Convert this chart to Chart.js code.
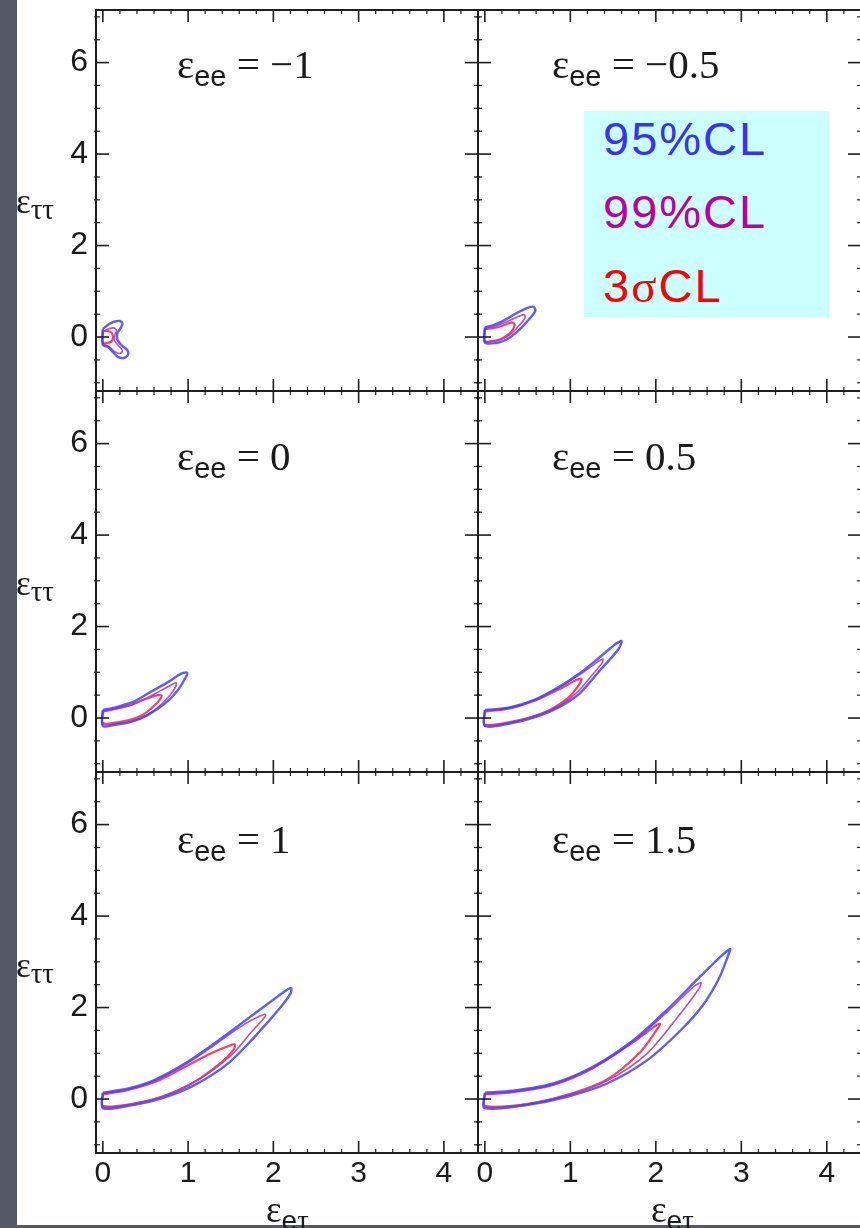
<!DOCTYPE html>
<html>
<head>
<meta charset="utf-8">
<script src="https://cdn.jsdelivr.net/npm/chart.js@4.4.1/dist/chart.umd.min.js"></script>
<style>
  html, body { margin: 0; padding: 0; background: #fff; overflow: hidden; }
  #page { position: relative; width: 860px; height: 1228px; overflow: hidden; background: #fff; }
  canvas { position: absolute; left: 0; top: 0; }
  .strip { position: absolute; background: #545867; }
  .lbl { position: absolute; white-space: nowrap; line-height: 1; color: #1a1a1a;
         font-family: 'Liberation Serif', 'Times New Roman', serif; }
  .sub { position: relative; }
  .sans { font-family: 'Liberation Sans', Arial, sans-serif; }
  #legend { position: absolute; left: 584px; top: 111px; width: 245px; height: 206px; background: #ccffff; }
  .leg { position: absolute; left: 19px; line-height: 1; white-space: nowrap; letter-spacing: 2px;
         font-family: 'Liberation Sans', Arial, sans-serif; font-size: 47px; }
</style>
</head>
<body>
<div id="page">
  <div class="strip" style="left:0;top:0;width:17px;height:1228px"></div>
  <div class="strip" style="left:0;top:1225px;width:860px;height:3px"></div>
  <div id="legend"></div>
</div>
<script>
// panneaux : epsilon_ee = -1, -0.5, 0, 0.5, 1, 1.5
const eeLabels = ['\u22121', '\u22120.5', '0', '0.5', '1', '1.5'];
const xTicks = [0, 1, 2, 3, 4];
const yTicks = [0, 2, 4, 6];
const legendLabels = ['95%CL', '99%CL', '3\u03c3CL'];
const legendColors = ['#3434f4', '#c0009c', '#ff0000'];

// contours [eps_etau, eps_tautau]
const cl95_m1 = [[0.0,0.18],[0.07,0.28],[0.14,0.34],[0.2,0.35],[0.23,0.3],[0.21,0.2],[0.17,0.08],[0.17,-0.05],[0.22,-0.18],[0.28,-0.27],[0.3,-0.36],[0.26,-0.45],[0.18,-0.44],[0.12,-0.33],[0.06,-0.22],[0.0,-0.17]];
const cl99_m1 = [[0.0,0.12],[0.07,0.18],[0.13,0.2],[0.16,0.15],[0.14,0.04],[0.14,-0.08],[0.19,-0.2],[0.23,-0.3],[0.2,-0.36],[0.14,-0.32],[0.08,-0.22],[0.0,-0.14]];
const cl3s_m1 = [[0.0,0.13],[0.06,0.13],[0.1,0.1],[0.12,0.0],[0.1,-0.1],[0.05,-0.13],[0.0,-0.13]];

const cl95_m05 = [[0.0,0.21],[0.1,0.26],[0.22,0.36],[0.37,0.52],[0.5,0.64],[0.57,0.66],[0.59,0.57],[0.49,0.33],[0.37,0.1],[0.25,-0.06],[0.13,-0.13],[0.0,-0.12]];
const cl99_m05 = [[0.0,0.19],[0.12,0.24],[0.25,0.33],[0.38,0.44],[0.46,0.49],[0.47,0.42],[0.4,0.25],[0.3,0.06],[0.18,-0.06],[0.08,-0.1],[0.0,-0.1]];
const cl3s_m05 = [[0.0,0.17],[0.14,0.21],[0.25,0.28],[0.32,0.32],[0.35,0.26],[0.29,0.08],[0.18,-0.05],[0.08,-0.09],[0.0,-0.09]];

const cl95_0 = [[0.0,0.175],[0.18,0.25],[0.375,0.37],[0.57,0.58],[0.77,0.79],[0.92,0.97],[0.99,0.99],[0.97,0.88],[0.88,0.61],[0.73,0.32],[0.53,0.07],[0.34,-0.08],[0.14,-0.15],[0.0,-0.175]];
const cl99_0 = [[0.0,0.15],[0.2,0.22],[0.4,0.33],[0.6,0.52],[0.78,0.7],[0.86,0.77],[0.85,0.67],[0.74,0.4],[0.55,0.1],[0.35,-0.06],[0.15,-0.12],[0.0,-0.14]];
const cl3s_0 = [[0.0,0.14],[0.3,0.27],[0.49,0.41],[0.64,0.5],[0.69,0.49],[0.64,0.34],[0.46,0.06],[0.22,-0.08],[0.0,-0.11]];

const cl95_05 = [[0.0,0.175],[0.29,0.23],[0.57,0.39],[0.84,0.65],[1.11,0.98],[1.35,1.34],[1.53,1.62],[1.6,1.68],[1.56,1.5],[1.35,1.05],[1.11,0.54],[0.88,0.25],[0.61,0.03],[0.29,-0.12],[0.0,-0.175]];
const cl99_05 = [[0.0,0.16],[0.29,0.22],[0.57,0.38],[0.84,0.63],[1.11,0.95],[1.3,1.2],[1.38,1.29],[1.37,1.2],[1.25,0.93],[1.1,0.6],[0.88,0.28],[0.61,0.06],[0.29,-0.1],[0.0,-0.15]];
const cl3s_05 = [[0.0,0.14],[0.29,0.21],[0.61,0.4],[0.88,0.64],[1.08,0.84],[1.13,0.86],[1.1,0.72],[0.96,0.42],[0.68,0.11],[0.29,-0.09],[0.0,-0.14]];

const cl95_1 = [[0.0,0.14],[0.3,0.23],[0.61,0.42],[1.0,0.82],[1.31,1.22],[1.63,1.66],[1.94,2.09],[2.17,2.4],[2.21,2.42],[2.2,2.3],[2.06,1.95],[1.78,1.36],[1.47,0.78],[1.08,0.31],[0.69,0.015],[0.3,-0.15],[0.0,-0.2]];
const cl99_1 = [[0.0,0.12],[0.3,0.21],[0.61,0.4],[1.0,0.79],[1.31,1.18],[1.63,1.6],[1.85,1.82],[1.91,1.85],[1.88,1.75],[1.75,1.48],[1.5,0.95],[1.1,0.4],[0.69,0.05],[0.3,-0.12],[0.0,-0.17]];
const cl3s_1 = [[0.0,0.1],[0.3,0.2],[0.61,0.37],[1.0,0.74],[1.27,1.0],[1.49,1.17],[1.55,1.19],[1.53,1.07],[1.39,0.8],[1.08,0.38],[0.69,0.05],[0.3,-0.12],[0.0,-0.15]];

const cl95_15 = [[0.0,0.14],[0.33,0.18],[0.8,0.34],[1.27,0.71],[1.74,1.29],[2.13,1.95],[2.52,2.68],[2.78,3.15],[2.87,3.28],[2.85,3.16],[2.74,2.64],[2.55,2.05],[2.3,1.52],[1.9,0.85],[1.43,0.34],[0.96,0.05],[0.49,-0.13],[0.0,-0.2]];
const cl99_15 = [[0.0,0.12],[0.33,0.16],[0.8,0.32],[1.27,0.69],[1.74,1.26],[2.13,1.9],[2.45,2.47],[2.53,2.54],[2.5,2.4],[2.3,1.9],[1.9,1.0],[1.43,0.4],[0.96,0.08],[0.49,-0.11],[0.0,-0.17]];
const cl3s_15 = [[0.0,0.1],[0.33,0.15],[0.8,0.31],[1.27,0.68],[1.74,1.25],[2.01,1.62],[2.05,1.64],[2.01,1.51],[1.82,1.03],[1.43,0.43],[0.96,0.09],[0.49,-0.11],[0.0,-0.15]];

const contours = [
  [cl95_m1, cl99_m1, cl3s_m1],
  [cl95_m05, cl99_m05, cl3s_m05],
  [cl95_0, cl99_0, cl3s_0],
  [cl95_05, cl99_05, cl3s_05],
  [cl95_1, cl99_1, cl3s_1],
  [cl95_15, cl99_15, cl3s_15]
];
const lineColors = ['rgba(64,64,255,0.85)', 'rgba(176,60,190,0.9)', 'rgba(255,40,80,0.9)'];
const lineWidths = [2.4, 1.6, 2.2];

// mise en page (px)
const W = 862, H = 1228;
const colLeft = [96, 478], colRight = [478, 861];
const rowTop = [10, 391, 772], rowH = 381;
const titleLeft = [177, 552], titleBase = [78, 470, 853];

Chart.defaults.font.family = "'Liberation Sans', Arial, sans-serif";
Chart.defaults.color = '#1a1a1a';

// cadre + graduations vers l'intérieur
const framePlugin = {
  id: 'frame',
  afterDraw(chart) {
    const { ctx, chartArea: a, scales: { x, y } } = chart;
    const seg = (x1, y1, x2, y2) => { ctx.beginPath(); ctx.moveTo(x1, y1); ctx.lineTo(x2, y2); ctx.stroke(); };
    ctx.save();
    ctx.strokeStyle = '#1e1e1e';
    ctx.lineWidth = 2;
    ctx.strokeRect(a.left, a.top, a.right - a.left, a.bottom - a.top);
    ctx.lineWidth = 1.6;
    xTicks.forEach(v => {
      const p = x.getPixelForValue(v);
      seg(p, a.bottom, p, a.bottom - 12);
      seg(p, a.top, p, a.top + 12);
    });
    yTicks.forEach(v => {
      const p = y.getPixelForValue(v);
      seg(a.left, p, a.left + 13, p);
      seg(a.right, p, a.right - 13, p);
    });
    ctx.lineWidth = 1.2;
    for (let i = 1; i < 22; i++) {
      if (i % 5 === 0) continue;
      const p = x.getPixelForValue(i * 0.2);
      seg(p, a.bottom + 1, p, a.bottom - 4);
      seg(p, a.top - 1, p, a.top + 4);
    }
    for (let i = -2; i <= 14; i++) {
      if (i % 4 === 0) continue;
      const p = y.getPixelForValue(i * 0.5);
      seg(a.left - 2, p, a.left + 4, p);
      seg(a.right + 2, p, a.right - 4, p);
    }
    ctx.restore();
  }
};

const page = document.getElementById('page');

contours.forEach((sets, idx) => {
  const col = idx % 2, row = Math.floor(idx / 2);
  const bottom = rowTop[row] + rowH;
  const cv = document.createElement('canvas');
  cv.width = W; cv.height = H;
  page.appendChild(cv);

  new Chart(cv, {
    type: 'scatter',
    data: {
      datasets: sets.map((pts, k) => ({
        data: pts.concat([pts[0]]).map(p => ({ x: p[0], y: p[1] })),
        showLine: true,
        borderColor: lineColors[k],
        borderWidth: lineWidths[k],
        pointRadius: 0,
        tension: 0.3,
        fill: false
      }))
    },
    options: {
      responsive: false,
      animation: false,
      events: [],
      layout: { padding: { left: 0, right: W - colRight[col], top: rowTop[row], bottom: 0 } },
      plugins: { legend: { display: false }, tooltip: { enabled: false } },
      scales: {
        x: {
          type: 'linear', min: -0.08, max: 4.4,
          afterFit: s => { s.height = H - bottom; s.paddingLeft = 0; s.paddingRight = 0; },
          afterBuildTicks: s => { s.ticks = xTicks.map(v => ({ value: v })); },
          grid: { display: false, drawTicks: false },
          border: { display: false },
          ticks: { display: row === 2, font: { size: 30 }, color: '#1a1a1a', padding: 3, maxRotation: 0, autoSkip: false }
        },
        y: {
          type: 'linear', min: -1.18, max: 7.15,
          afterFit: s => { s.width = colLeft[col]; s.paddingTop = 0; s.paddingBottom = 0; },
          afterBuildTicks: s => { s.ticks = yTicks.map(v => ({ value: v })); },
          grid: { display: false, drawTicks: false },
          border: { display: false },
          ticks: { display: col === 0, font: { size: 32 }, color: '#1a1a1a', padding: 8, autoSkip: false }
        }
      }
    },
    plugins: [framePlugin]
  });

  // titre du panneau
  const t = document.createElement('div');
  t.className = 'lbl';
  t.style.fontSize = '41px';
  t.style.left = titleLeft[col] + 'px';
  t.style.top = (titleBase[row] - 34.3) + 'px';
  t.innerHTML = '\u03b5<span class="sub sans" style="font-size:29px;top:8px">ee</span> = ' + eeLabels[idx];
  page.appendChild(t);
});

// titres des axes
[213, 595, 977].forEach(b => {
  const d = document.createElement('div');
  d.className = 'lbl';
  d.style.fontSize = '35px';
  d.style.left = '16px';
  d.style.top = (b - 29.3) + 'px';
  d.innerHTML = '\u03b5<span class="sub" style="font-size:29px;top:6px">\u03c4\u03c4</span>';
  page.appendChild(d);
});
[266, 651].forEach(l => {
  const d = document.createElement('div');
  d.className = 'lbl';
  d.style.fontSize = '37px';
  d.style.left = l + 'px';
  d.style.top = (1222 - 31) + 'px';
  d.innerHTML = '\u03b5<span class="sub" style="top:8px"><span class="sans" style="font-size:28px">e</span><span style="font-size:29px">\u03c4</span></span>';
  page.appendChild(d);
});

// légende
const leg = document.getElementById('legend');
legendLabels.forEach((txt, i) => {
  const d = document.createElement('div');
  d.className = 'leg';
  d.style.color = legendColors[i];
  d.style.top = [4, 77, 151][i] + 'px';
  d.innerHTML = txt.replace('\u03c3', '<span style="font-family:\'Liberation Serif\',serif">\u03c3</span>');
  leg.appendChild(d);
});
</script>
</body>
</html>
